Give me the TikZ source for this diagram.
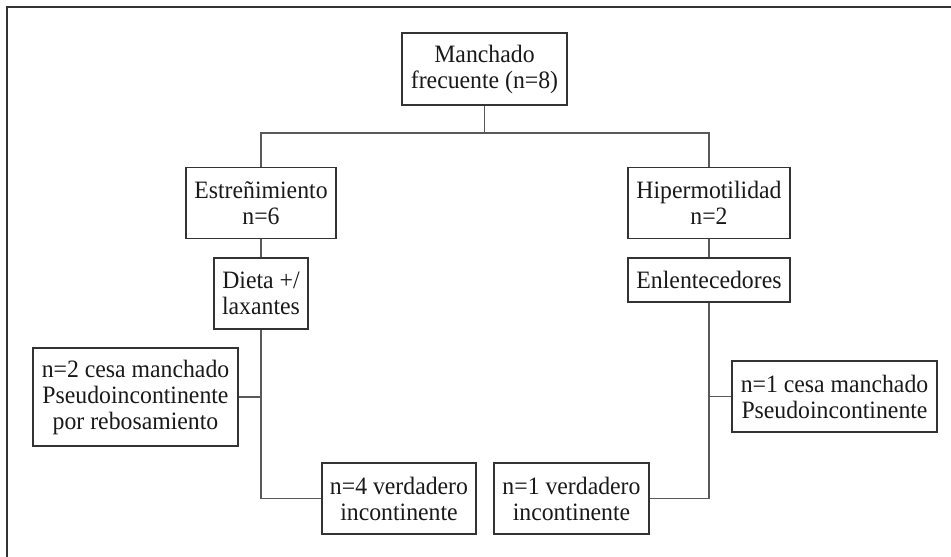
\documentclass[tikz,border=0pt]{standalone}
\usepackage{fontspec}
\setmainfont[FakeStretch=0.95]{Liberation Serif}
\begin{document}
\begin{tikzpicture}[x=1pt,y=-1pt,
  box/.style={draw=black!80, line width=1.3pt, inner sep=0pt, align=center,
    text=black!90, font=\fontsize{25}{26}\selectfont},
  link/.style={draw=black!65, line width=1.3pt},
  frame/.style={draw=black!80, line width=1.8pt}]
\useasboundingbox (0,0) rectangle (951,557);
\draw[frame] (7,557) -- (7,7) -- (951,7);
\node[box, minimum width=165pt, minimum height=72pt] (top) at (484.5,69) {Manchado\\frecuente (n=8)};
\node[box, minimum width=150pt, minimum height=71pt] (est) at (261,203) {Estreñimiento\\n=6};
\node[box, minimum width=162pt, minimum height=71pt] (hip) at (709,203) {Hipermotilidad\\n=2};
\node[box, minimum width=94pt, minimum height=71pt] (dieta) at (261,293.5) {Dieta +/\\laxantes};
\node[box, minimum width=162pt, minimum height=44pt] (enl) at (709,280) {Enlentecedores};
\node[box, minimum width=205pt, minimum height=98pt] (n2) at (135.5,397) {n=2 cesa manchado\\Pseudoincontinente\\por rebosamiento};
\node[box, minimum width=154pt, minimum height=71pt] (n4) at (399,498.5) {n=4 verdadero\\incontinente};
\node[box, minimum width=155pt, minimum height=71pt] (n1v) at (571.5,498.5) {n=1 verdadero\\incontinente};
\node[box, minimum width=205pt, minimum height=71pt] (n1c) at (834.5,396.5) {n=1 cesa manchado\\Pseudoincontinente};
\coordinate (j) at (484.5,133);
\draw[link] (top.south) -- (j);
\draw[link] (est.north) |- (j) -| (hip.north);
\draw[link] (est.south) -- (dieta.north);
\draw[link] (hip.south) -- (enl.north);
\draw[link] (dieta.south) |- (n4.west);
\draw[link] (enl.south) |- (n1v.east);
\draw[link] (n2.east) -- (n2.east -| dieta.south);
\draw[link] (n1c.west) -- (n1c.west -| enl.south);
\end{tikzpicture}
\end{document}
